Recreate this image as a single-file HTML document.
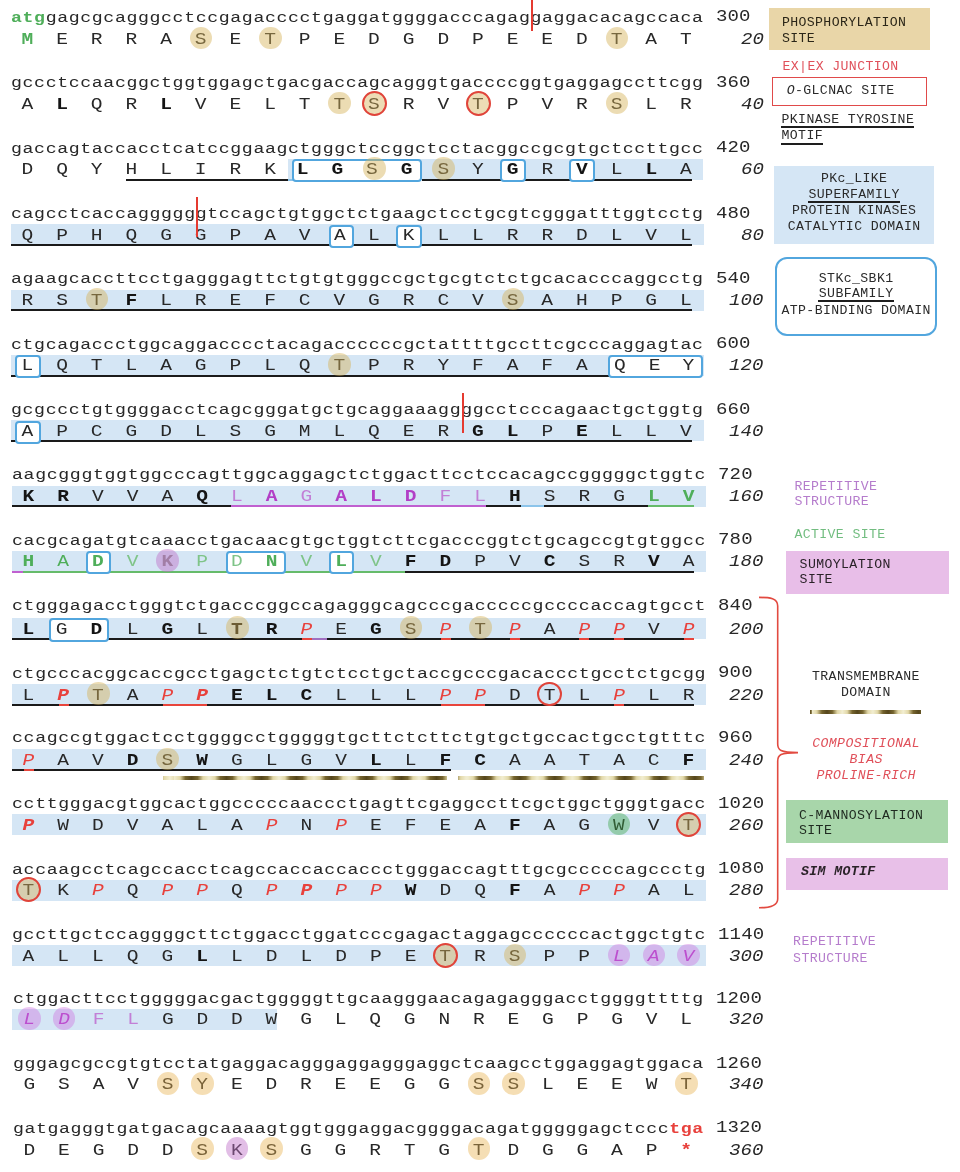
<!DOCTYPE html><html><head><meta charset="utf-8"><style>
html,body{margin:0;padding:0;background:#fff;width:960px;height:1172px;overflow:hidden;position:relative}
.t{position:absolute;white-space:pre;font-family:"Liberation Mono",monospace;color:#282828;line-height:1}
.dna{font-size:15.20px;letter-spacing:2.430px}
.aa{font-size:17.00px;letter-spacing:1.350px}
.num{font-size:17.00px;letter-spacing:1.350px}
.leg{font-size:13.20px;letter-spacing:0.380px;line-height:15.6px}
.b{font-weight:bold;color:#141414}.i{font-style:italic}
.d{position:absolute}
.tm{background:repeating-linear-gradient(90deg,#f2eed2 0px,#e2d8a8 6px,#75642e 11.5px,#55461c 17.5px,#75642e 23.5px,#e2d8a8 29px,#f2eed2 35px)}
.tm2{background:repeating-linear-gradient(90deg,#f2eed2 0px,#e2d8a8 5px,#75642e 10px,#55461c 15.25px,#75642e 20.5px,#e2d8a8 25.5px,#f2eed2 30.5px)}

.cg{color:#4fae5a}
.cgl{color:#7fc488}
.cp{color:#b23fc6}
.cpl{color:#c27fd6}
.cr{color:#e8413c}
.cgrey{color:#8a8a8a}
</style></head><body><div id="w" style="position:absolute;left:0;top:0;width:960px;height:1172px;background:#fff;filter:blur(0.45px)">
<div class="t dna" style="left:10.80px;top:10.86px;letter-spacing:0.505px;transform:scaleX(1.200);transform-origin:0 0"><span class="b cg">atg</span>gagcgcagggcctccgagacccctgaggatggggacccagaggaggacacagccaca</div>
<div class="t num" style="left:715.94px;top:8.48px;letter-spacing:0.113px;transform:scaleX(1.120);transform-origin:0 0">300</div>
<div class="t aa" style="left:10.41px;top:30.68px;letter-spacing:-0.157px;transform:scaleX(1.150);transform-origin:0 0"> <span class="b cg">M</span>  E  R  R  A  S  E  T  P  E  D  G  D  P  E  E  D  T  A  T </div>
<div class="t num i" style="left:740.71px;top:30.68px;letter-spacing:0.113px;transform:scaleX(1.120);transform-origin:0 0">20</div>
<div class="d" style="left:189.78px;top:26.50px;width:22.60px;height:22.60px;border-radius:50%;background:rgba(214,178,90,0.46)"></div>
<div class="d" style="left:259.07px;top:26.50px;width:22.60px;height:22.60px;border-radius:50%;background:rgba(214,178,90,0.46)"></div>
<div class="d" style="left:605.58px;top:26.50px;width:22.60px;height:22.60px;border-radius:50%;background:rgba(214,178,90,0.46)"></div>
<div class="t dna" style="left:10.80px;top:76.21px;letter-spacing:0.505px;transform:scaleX(1.200);transform-origin:0 0">gccctccaacggctggtggagctgacgaccagcagggtgaccccggtgaggagccttcgg</div>
<div class="t num" style="left:715.94px;top:73.83px;letter-spacing:0.113px;transform:scaleX(1.120);transform-origin:0 0">360</div>
<div class="t aa" style="left:10.41px;top:96.03px;letter-spacing:-0.157px;transform:scaleX(1.150);transform-origin:0 0"> A  <span class="b">L</span>  Q  R  <span class="b">L</span>  V  E  L  T  T  S  R  V  T  P  V  R  S  L  R </div>
<div class="t num i" style="left:740.71px;top:96.03px;letter-spacing:0.113px;transform:scaleX(1.120);transform-origin:0 0">40</div>
<div class="d" style="left:328.38px;top:91.85px;width:22.60px;height:22.60px;border-radius:50%;background:rgba(214,178,90,0.46)"></div>
<div class="d" style="left:605.58px;top:91.85px;width:22.60px;height:22.60px;border-radius:50%;background:rgba(214,178,90,0.46)"></div>
<div class="d" style="left:361.93px;top:91.05px;width:24.80px;height:24.80px;border-radius:50%;background:rgba(214,178,90,0.45);box-sizing:border-box;border:2px solid #e0443a"></div>
<div class="d" style="left:465.88px;top:91.05px;width:24.80px;height:24.80px;border-radius:50%;background:rgba(214,178,90,0.45);box-sizing:border-box;border:2px solid #e0443a"></div>
<div class="d" style="left:287.70px;top:158.80px;width:415.80px;height:21px;background:#d5e6f5"></div>
<div class="d" style="left:126.00px;top:178.70px;width:161.70px;height:2px;background:#1a1a1a"></div>
<div class="d" style="left:287.70px;top:178.70px;width:11.55px;height:2px;background:#8cc4ea"></div>
<div class="d" style="left:421.78px;top:178.70px;width:270.18px;height:2px;background:#1a1a1a"></div>
<div class="d" style="left:292.23px;top:159.20px;width:129.55px;height:23.20px;box-sizing:border-box;border:2px solid #52a6de;border-radius:4px;background:#fff"></div>
<div class="d" style="left:500.12px;top:159.20px;width:25.60px;height:23.20px;box-sizing:border-box;border:2px solid #52a6de;border-radius:4px;background:#fff"></div>
<div class="d" style="left:569.43px;top:159.20px;width:25.60px;height:23.20px;box-sizing:border-box;border:2px solid #52a6de;border-radius:4px;background:#fff"></div>
<div class="t dna" style="left:10.80px;top:141.56px;letter-spacing:0.505px;transform:scaleX(1.200);transform-origin:0 0">gaccagtaccacctcatccggaagctgggctccggctcctacggccgcgtgctccttgcc</div>
<div class="t num" style="left:715.94px;top:139.18px;letter-spacing:0.113px;transform:scaleX(1.120);transform-origin:0 0">420</div>
<div class="t aa" style="left:10.41px;top:161.38px;letter-spacing:-0.157px;transform:scaleX(1.150);transform-origin:0 0"> D  Q  Y  H  L  I  R  K  <span class="b" style="position:relative;left:-1.74px">L</span>  <span class="b" style="position:relative;left:-1.74px">G</span>  <span class="" style="position:relative;left:-1.74px">S</span>  <span class="b" style="position:relative;left:-1.74px">G</span>  S  Y  <span class="b">G</span>  R  <span class="b">V</span>  L  <span class="b">L</span>  A </div>
<div class="t num i" style="left:740.71px;top:161.38px;letter-spacing:0.113px;transform:scaleX(1.120);transform-origin:0 0">60</div>
<div class="d" style="left:363.03px;top:157.20px;width:22.60px;height:22.60px;border-radius:50%;background:rgba(214,178,90,0.46)"></div>
<div class="d" style="left:432.32px;top:157.20px;width:22.60px;height:22.60px;border-radius:50%;background:rgba(214,178,90,0.46)"></div>
<div class="d" style="left:10.50px;top:224.15px;width:693.00px;height:21px;background:#d5e6f5"></div>
<div class="d" style="left:11.00px;top:244.05px;width:680.95px;height:2px;background:#1a1a1a"></div>
<div class="d" style="left:328.77px;top:224.55px;width:25.60px;height:23.20px;box-sizing:border-box;border:2px solid #52a6de;border-radius:4px;background:#fff"></div>
<div class="d" style="left:396.18px;top:224.55px;width:25.60px;height:23.20px;box-sizing:border-box;border:2px solid #52a6de;border-radius:4px;background:#fff"></div>
<div class="t dna" style="left:10.80px;top:206.91px;letter-spacing:0.505px;transform:scaleX(1.200);transform-origin:0 0">cagcctcaccaggggggtccagctgtggctctgaagctcctgcgtcgggatttggtcctg</div>
<div class="t num" style="left:715.94px;top:204.53px;letter-spacing:0.113px;transform:scaleX(1.120);transform-origin:0 0">480</div>
<div class="t aa" style="left:10.41px;top:226.73px;letter-spacing:-0.157px;transform:scaleX(1.150);transform-origin:0 0"> Q  P  H  Q  G  G  P  A  V  <span class="" style="position:relative;left:0.52px">A</span>  L  K  L  L  R  R  D  L  V  L </div>
<div class="t num i" style="left:740.71px;top:226.73px;letter-spacing:0.113px;transform:scaleX(1.120);transform-origin:0 0">80</div>
<div class="d" style="left:10.50px;top:289.50px;width:693.00px;height:21px;background:#d5e6f5"></div>
<div class="d" style="left:11.00px;top:309.40px;width:680.95px;height:2px;background:#1a1a1a"></div>
<div class="t dna" style="left:10.80px;top:272.26px;letter-spacing:0.505px;transform:scaleX(1.200);transform-origin:0 0">agaagcaccttcctgagggagttctgtgtgggccgctgcgtctctgcacacccaggcctg</div>
<div class="t num" style="left:715.94px;top:269.88px;letter-spacing:0.113px;transform:scaleX(1.120);transform-origin:0 0">540</div>
<div class="t aa" style="left:10.41px;top:292.08px;letter-spacing:-0.157px;transform:scaleX(1.150);transform-origin:0 0"> R  S  T  <span class="b">F</span>  L  R  E  F  C  V  G  R  C  V  S  A  H  P  G  L </div>
<div class="t num i" style="left:729.16px;top:292.08px;letter-spacing:0.113px;transform:scaleX(1.120);transform-origin:0 0">100</div>
<div class="d" style="left:85.83px;top:287.90px;width:22.60px;height:22.60px;border-radius:50%;background:rgba(214,178,90,0.46)"></div>
<div class="d" style="left:501.62px;top:287.90px;width:22.60px;height:22.60px;border-radius:50%;background:rgba(214,178,90,0.46)"></div>
<div class="d" style="left:10.50px;top:354.85px;width:693.00px;height:21px;background:#d5e6f5"></div>
<div class="d" style="left:11.00px;top:374.75px;width:680.95px;height:2px;background:#1a1a1a"></div>
<div class="d" style="left:15.03px;top:355.25px;width:25.60px;height:23.20px;box-sizing:border-box;border:2px solid #52a6de;border-radius:4px;background:#fff"></div>
<div class="d" style="left:608.08px;top:355.25px;width:94.90px;height:23.20px;box-sizing:border-box;border:2px solid #52a6de;border-radius:4px;background:#fff"></div>
<div class="t dna" style="left:10.80px;top:337.61px;letter-spacing:0.505px;transform:scaleX(1.200);transform-origin:0 0">ctgcagaccctggcaggacccctacagaccccccgctattttgccttcgcccaggagtac</div>
<div class="t num" style="left:715.94px;top:335.23px;letter-spacing:0.113px;transform:scaleX(1.120);transform-origin:0 0">600</div>
<div class="t aa" style="left:10.41px;top:357.43px;letter-spacing:-0.157px;transform:scaleX(1.150);transform-origin:0 0"> L  Q  T  L  A  G  P  L  Q  T  P  R  Y  F  A  F  A  <span class="" style="position:relative;left:2.87px">Q</span>  <span class="" style="position:relative;left:2.87px">E</span>  <span class="" style="position:relative;left:2.09px">Y</span> </div>
<div class="t num i" style="left:729.16px;top:357.43px;letter-spacing:0.113px;transform:scaleX(1.120);transform-origin:0 0">120</div>
<div class="d" style="left:328.38px;top:353.25px;width:22.60px;height:22.60px;border-radius:50%;background:rgba(214,178,90,0.46)"></div>
<div class="d" style="left:10.50px;top:420.20px;width:693.00px;height:21px;background:#d5e6f5"></div>
<div class="d" style="left:11.00px;top:440.10px;width:680.95px;height:2px;background:#1a1a1a"></div>
<div class="d" style="left:15.03px;top:420.60px;width:25.60px;height:23.20px;box-sizing:border-box;border:2px solid #52a6de;border-radius:4px;background:#fff"></div>
<div class="t dna" style="left:10.80px;top:402.96px;letter-spacing:0.505px;transform:scaleX(1.200);transform-origin:0 0">gcgccctgtggggacctcagcgggatgctgcaggaaaggggcctcccagaactgctggtg</div>
<div class="t num" style="left:715.94px;top:400.58px;letter-spacing:0.113px;transform:scaleX(1.120);transform-origin:0 0">660</div>
<div class="t aa" style="left:10.41px;top:422.78px;letter-spacing:-0.157px;transform:scaleX(1.150);transform-origin:0 0"> A  P  C  G  D  L  S  G  M  L  Q  E  R  <span class="b">G</span>  <span class="b">L</span>  P  <span class="b">E</span>  L  L  V </div>
<div class="t num i" style="left:729.16px;top:422.78px;letter-spacing:0.113px;transform:scaleX(1.120);transform-origin:0 0">140</div>
<div class="d" style="left:11.50px;top:485.55px;width:694.50px;height:21px;background:#d5e6f5"></div>
<div class="d" style="left:12.00px;top:505.45px;width:219.42px;height:2px;background:#1a1a1a"></div>
<div class="d" style="left:231.42px;top:505.45px;width:254.65px;height:2px;background:#c060d0"></div>
<div class="d" style="left:486.07px;top:505.45px;width:34.72px;height:2px;background:#1a1a1a"></div>
<div class="d" style="left:520.80px;top:505.45px;width:23.15px;height:2px;background:#8cc4ea"></div>
<div class="d" style="left:543.95px;top:505.45px;width:104.18px;height:2px;background:#1a1a1a"></div>
<div class="d" style="left:648.12px;top:505.45px;width:46.30px;height:2px;background:#66bb6a"></div>
<div class="t dna" style="left:11.82px;top:468.31px;letter-spacing:0.526px;transform:scaleX(1.200);transform-origin:0 0">aagcgggtggtggcccagttggcaggagctctggacttcctccacagccgggggctggtc</div>
<div class="t num" style="left:718.46px;top:465.93px;letter-spacing:0.135px;transform:scaleX(1.120);transform-origin:0 0">720</div>
<div class="t aa" style="left:11.42px;top:488.13px;letter-spacing:-0.135px;transform:scaleX(1.150);transform-origin:0 0"> <span class="b">K</span>  <span class="b">R</span>  V  V  A  <span class="b">Q</span>  <span class="cpl">L</span>  <span class="b cp">A</span>  <span class="cpl">G</span>  <span class="b cp">A</span>  <span class="b cp">L</span>  <span class="b cp">D</span>  <span class="cpl">F</span>  <span class="cpl">L</span>  <span class="b">H</span>  S  R  G  <span class="b cg">L</span>  <span class="b cg">V</span> </div>
<div class="t num i" style="left:729.16px;top:488.13px;letter-spacing:0.113px;transform:scaleX(1.120);transform-origin:0 0">160</div>
<div class="d" style="left:11.50px;top:550.90px;width:694.50px;height:21px;background:#d5e6f5"></div>
<div class="d" style="left:12.00px;top:570.80px;width:11.07px;height:2px;background:#c060d0"></div>
<div class="d" style="left:23.07px;top:570.80px;width:381.97px;height:2px;background:#66bb6a"></div>
<div class="d" style="left:405.05px;top:570.80px;width:289.38px;height:2px;background:#1a1a1a"></div>
<div class="d" style="left:85.51px;top:551.30px;width:25.60px;height:23.20px;box-sizing:border-box;border:2px solid #52a6de;border-radius:4px;background:#fff"></div>
<div class="d" style="left:225.71px;top:551.30px;width:60.33px;height:23.20px;box-sizing:border-box;border:2px solid #52a6de;border-radius:4px;background:#fff"></div>
<div class="d" style="left:328.59px;top:551.30px;width:25.60px;height:23.20px;box-sizing:border-box;border:2px solid #52a6de;border-radius:4px;background:#fff"></div>
<div class="t dna" style="left:11.82px;top:533.66px;letter-spacing:0.526px;transform:scaleX(1.200);transform-origin:0 0">cacgcagatgtcaaacctgacaacgtgctggtcttcgacccggtctgcagccgtgtggcc</div>
<div class="t num" style="left:718.46px;top:531.28px;letter-spacing:0.135px;transform:scaleX(1.120);transform-origin:0 0">780</div>
<div class="t aa" style="left:11.42px;top:553.48px;letter-spacing:-0.135px;transform:scaleX(1.150);transform-origin:0 0"> <span class="b cg">H</span>  <span class="cg">A</span>  <span class="b cg">D</span>  <span class="cgl">V</span>  <span class="b cgrey">K</span>  <span class="cgl">P</span>  <span class="cgl">D</span>  <span class="b cg">N</span>  <span class="cgl">V</span>  <span class="b cg">L</span>  <span class="cgl">V</span>  <span class="b">F</span>  <span class="b">D</span>  P  V  <span class="b">C</span>  S  R  <span class="b">V</span>  A </div>
<div class="t num i" style="left:729.16px;top:553.48px;letter-spacing:0.113px;transform:scaleX(1.120);transform-origin:0 0">180</div>
<div class="d" style="left:156.46px;top:549.30px;width:22.60px;height:22.60px;border-radius:50%;background:rgba(190,110,200,0.45)"></div>
<div class="d" style="left:11.50px;top:617.95px;width:694.50px;height:21px;background:#d5e6f5"></div>
<div class="d" style="left:12.00px;top:637.85px;width:682.42px;height:2px;background:#1a1a1a"></div>
<div class="d" style="left:301.66px;top:637.85px;width:10.00px;height:2px;background:#e8453c"></div>
<div class="d" style="left:440.56px;top:637.85px;width:10.00px;height:2px;background:#e8453c"></div>
<div class="d" style="left:510.01px;top:637.85px;width:10.00px;height:2px;background:#e8453c"></div>
<div class="d" style="left:579.46px;top:637.85px;width:10.00px;height:2px;background:#e8453c"></div>
<div class="d" style="left:614.19px;top:637.85px;width:10.00px;height:2px;background:#e8453c"></div>
<div class="d" style="left:683.64px;top:637.85px;width:10.00px;height:2px;background:#e8453c"></div>
<div class="d" style="left:311.66px;top:637.85px;width:15.00px;height:2px;background:#a070c0"></div>
<div class="d" style="left:48.79px;top:618.35px;width:60.33px;height:23.20px;box-sizing:border-box;border:2px solid #52a6de;border-radius:4px;background:#fff"></div>
<div class="t dna" style="left:11.82px;top:599.01px;letter-spacing:0.526px;transform:scaleX(1.200);transform-origin:0 0">ctgggagacctgggtctgacccggccagagggcagcccgacccccgccccaccagtgcct</div>
<div class="t num" style="left:718.46px;top:596.63px;letter-spacing:0.135px;transform:scaleX(1.120);transform-origin:0 0">840</div>
<div class="t aa" style="left:11.42px;top:620.53px;letter-spacing:-0.135px;transform:scaleX(1.150);transform-origin:0 0"> <span class="b">L</span>  <span class="" style="position:relative;left:-1.30px">G</span>  <span class="b" style="position:relative;left:-1.30px">D</span>  L  <span class="b">G</span>  L  <span class="b">T</span>  <span class="b">R</span>  <span class="i cr">P</span>  E  <span class="b">G</span>  S  <span class="i cr">P</span>  T  <span class="i cr">P</span>  A  <span class="i cr">P</span>  <span class="i cr">P</span>  V  <span class="i cr">P</span> </div>
<div class="t num i" style="left:729.16px;top:620.53px;letter-spacing:0.113px;transform:scaleX(1.120);transform-origin:0 0">200</div>
<div class="d" style="left:225.91px;top:616.35px;width:22.60px;height:22.60px;border-radius:50%;background:rgba(214,178,90,0.46)"></div>
<div class="d" style="left:399.54px;top:616.35px;width:22.60px;height:22.60px;border-radius:50%;background:rgba(214,178,90,0.46)"></div>
<div class="d" style="left:468.99px;top:616.35px;width:22.60px;height:22.60px;border-radius:50%;background:rgba(214,178,90,0.46)"></div>
<div class="d" style="left:11.50px;top:684.00px;width:694.50px;height:21px;background:#d5e6f5"></div>
<div class="d" style="left:12.00px;top:703.90px;width:682.42px;height:2px;background:#1a1a1a"></div>
<div class="d" style="left:58.59px;top:703.90px;width:10.00px;height:2px;background:#e8453c"></div>
<div class="d" style="left:614.19px;top:703.90px;width:10.00px;height:2px;background:#e8453c"></div>
<div class="d" style="left:162.76px;top:703.90px;width:44.72px;height:2px;background:#e8453c"></div>
<div class="d" style="left:440.56px;top:703.90px;width:44.72px;height:2px;background:#e8453c"></div>
<div class="t dna" style="left:11.82px;top:666.56px;letter-spacing:0.526px;transform:scaleX(1.200);transform-origin:0 0">ctgcccacggcaccgcctgagctctgtctcctgctaccgcccgacaccctgcctctgcgg</div>
<div class="t num" style="left:718.46px;top:664.18px;letter-spacing:0.135px;transform:scaleX(1.120);transform-origin:0 0">900</div>
<div class="t aa" style="left:11.42px;top:686.58px;letter-spacing:-0.135px;transform:scaleX(1.150);transform-origin:0 0"> L  <span class="b i cr">P</span>  T  A  <span class="i cr">P</span>  <span class="b i cr">P</span>  <span class="b">E</span>  <span class="b">L</span>  <span class="b">C</span>  L  L  L  <span class="i cr">P</span>  <span class="i cr">P</span>  D  T  L  <span class="i cr">P</span>  L  R </div>
<div class="t num i" style="left:729.16px;top:686.58px;letter-spacing:0.113px;transform:scaleX(1.120);transform-origin:0 0">220</div>
<div class="d" style="left:87.01px;top:682.40px;width:22.60px;height:22.60px;border-radius:50%;background:rgba(214,178,90,0.46)"></div>
<div class="d" style="left:537.34px;top:681.60px;width:24.80px;height:24.80px;border-radius:50%;box-sizing:border-box;border:2px solid #e0443a"></div>
<div class="d" style="left:11.50px;top:749.25px;width:694.50px;height:21px;background:#d5e6f5"></div>
<div class="d" style="left:12.00px;top:769.15px;width:439.35px;height:2px;background:#1a1a1a"></div>
<div class="d" style="left:23.86px;top:769.15px;width:10.00px;height:2px;background:#e8453c"></div>
<div class="t dna" style="left:11.82px;top:731.41px;letter-spacing:0.526px;transform:scaleX(1.200);transform-origin:0 0">ccagccgtggactcctggggcctgggggtgcttctcttctgtgctgccactgcctgtttc</div>
<div class="t num" style="left:718.46px;top:729.03px;letter-spacing:0.135px;transform:scaleX(1.120);transform-origin:0 0">960</div>
<div class="t aa" style="left:11.42px;top:751.83px;letter-spacing:-0.135px;transform:scaleX(1.150);transform-origin:0 0"> <span class="i cr">P</span>  A  V  <span class="b">D</span>  S  <span class="b">W</span>  G  L  G  V  <span class="b">L</span>  L  <span class="b">F</span>  <span class="b">C</span>  A  A  T  A  C  <span class="b">F</span> </div>
<div class="t num i" style="left:729.16px;top:751.83px;letter-spacing:0.113px;transform:scaleX(1.120);transform-origin:0 0">240</div>
<div class="d" style="left:156.46px;top:747.65px;width:22.60px;height:22.60px;border-radius:50%;background:rgba(214,178,90,0.46)"></div>
<div class="d" style="left:11.50px;top:814.20px;width:694.50px;height:21px;background:#d5e6f5"></div>
<div class="t dna" style="left:11.82px;top:797.06px;letter-spacing:0.526px;transform:scaleX(1.200);transform-origin:0 0">ccttgggacgtggcactggcccccaaccctgagttcgaggccttcgctggctgggtgacc</div>
<div class="t num" style="left:718.46px;top:794.68px;letter-spacing:0.135px;transform:scaleX(1.120);transform-origin:0 0">1020</div>
<div class="t aa" style="left:11.42px;top:816.78px;letter-spacing:-0.135px;transform:scaleX(1.150);transform-origin:0 0"> <span class="b i cr">P</span>  W  D  V  A  L  A  <span class="i cr">P</span>  N  <span class="i cr">P</span>  E  F  E  A  <span class="b">F</span>  A  G  W  V  T </div>
<div class="t num i" style="left:729.16px;top:816.78px;letter-spacing:0.113px;transform:scaleX(1.120);transform-origin:0 0">260</div>
<div class="d" style="left:607.89px;top:812.60px;width:22.60px;height:22.60px;border-radius:50%;background:rgba(60,168,72,0.42)"></div>
<div class="d" style="left:676.24px;top:811.80px;width:24.80px;height:24.80px;border-radius:50%;background:rgba(214,178,90,0.45);box-sizing:border-box;border:2px solid #e0443a"></div>
<div class="d" style="left:11.50px;top:879.65px;width:694.50px;height:21px;background:#d5e6f5"></div>
<div class="t dna" style="left:11.82px;top:862.81px;letter-spacing:0.526px;transform:scaleX(1.200);transform-origin:0 0">accaagcctcagccacctcagccaccaccaccctgggaccagtttgcgcccccagccctg</div>
<div class="t num" style="left:718.46px;top:860.43px;letter-spacing:0.135px;transform:scaleX(1.120);transform-origin:0 0">1080</div>
<div class="t aa" style="left:11.42px;top:882.23px;letter-spacing:-0.135px;transform:scaleX(1.150);transform-origin:0 0"> T  K  <span class="i cr">P</span>  Q  <span class="i cr">P</span>  <span class="i cr">P</span>  Q  <span class="i cr">P</span>  <span class="b i cr">P</span>  <span class="i cr">P</span>  <span class="i cr">P</span>  <span class="b">W</span>  D  Q  <span class="b">F</span>  A  <span class="i cr">P</span>  <span class="i cr">P</span>  A  L </div>
<div class="t num i" style="left:729.16px;top:882.23px;letter-spacing:0.113px;transform:scaleX(1.120);transform-origin:0 0">280</div>
<div class="d" style="left:16.46px;top:877.25px;width:24.80px;height:24.80px;border-radius:50%;background:rgba(214,178,90,0.45);box-sizing:border-box;border:2px solid #e0443a"></div>
<div class="d" style="left:11.50px;top:945.20px;width:694.50px;height:21px;background:#d5e6f5"></div>
<div class="t dna" style="left:11.82px;top:927.96px;letter-spacing:0.526px;transform:scaleX(1.200);transform-origin:0 0">gccttgctccaggggcttctggacctggatcccgagactaggagccccccactggctgtc</div>
<div class="t num" style="left:718.46px;top:925.58px;letter-spacing:0.135px;transform:scaleX(1.120);transform-origin:0 0">1140</div>
<div class="t aa" style="left:11.42px;top:947.78px;letter-spacing:-0.135px;transform:scaleX(1.150);transform-origin:0 0"> A  L  L  Q  G  <span class="b">L</span>  L  D  L  D  P  E  T  R  S  P  P  <span class="i cp">L</span>  <span class="i cp">A</span>  <span class="i cp">V</span> </div>
<div class="t num i" style="left:729.16px;top:947.78px;letter-spacing:0.113px;transform:scaleX(1.120);transform-origin:0 0">300</div>
<div class="d" style="left:433.16px;top:942.80px;width:24.80px;height:24.80px;border-radius:50%;background:rgba(214,178,90,0.45);box-sizing:border-box;border:2px solid #e0443a"></div>
<div class="d" style="left:503.71px;top:943.60px;width:22.60px;height:22.60px;border-radius:50%;background:rgba(214,178,90,0.46)"></div>
<div class="d" style="left:607.89px;top:943.60px;width:22.60px;height:22.60px;border-radius:50%;background:rgba(205,105,220,0.38)"></div>
<div class="d" style="left:642.61px;top:943.60px;width:22.60px;height:22.60px;border-radius:50%;background:rgba(205,105,220,0.38)"></div>
<div class="d" style="left:677.34px;top:943.60px;width:22.60px;height:22.60px;border-radius:50%;background:rgba(205,105,220,0.38)"></div>
<div class="d" style="left:12.30px;top:1008.55px;width:264.96px;height:21px;background:#d5e6f5"></div>
<div class="t dna" style="left:12.59px;top:992.11px;letter-spacing:0.480px;transform:scaleX(1.200);transform-origin:0 0">ctggacttcctgggggacgactgggggttgcaagggaacagagagggacctggggttttg</div>
<div class="t num" style="left:715.91px;top:989.73px;letter-spacing:0.086px;transform:scaleX(1.120);transform-origin:0 0">1200</div>
<div class="t aa" style="left:12.20px;top:1011.13px;letter-spacing:-0.183px;transform:scaleX(1.150);transform-origin:0 0"> <span class="i cp">L</span>  <span class="i cp">D</span>  <span class="cpl">F</span>  <span class="cpl">L</span>  G  D  D  W  G  L  Q  G  N  R  E  G  P  G  V  L </div>
<div class="t num i" style="left:729.16px;top:1011.13px;letter-spacing:0.113px;transform:scaleX(1.120);transform-origin:0 0">320</div>
<div class="d" style="left:18.28px;top:1006.95px;width:22.60px;height:22.60px;border-radius:50%;background:rgba(205,105,220,0.38)"></div>
<div class="d" style="left:52.84px;top:1006.95px;width:22.60px;height:22.60px;border-radius:50%;background:rgba(205,105,220,0.38)"></div>
<div class="t dna" style="left:12.59px;top:1056.96px;letter-spacing:0.480px;transform:scaleX(1.200);transform-origin:0 0">gggagcgccgtgtcctatgaggacagggaggagggaggctcaagcctggaggagtggaca</div>
<div class="t num" style="left:715.91px;top:1054.58px;letter-spacing:0.086px;transform:scaleX(1.120);transform-origin:0 0">1260</div>
<div class="t aa" style="left:12.20px;top:1076.28px;letter-spacing:-0.183px;transform:scaleX(1.150);transform-origin:0 0"> G  S  A  V  S  Y  E  D  R  E  E  G  G  S  S  L  E  E  W  T </div>
<div class="t num i" style="left:729.16px;top:1076.28px;letter-spacing:0.113px;transform:scaleX(1.120);transform-origin:0 0">340</div>
<div class="d" style="left:156.52px;top:1072.10px;width:22.60px;height:22.60px;border-radius:50%;background:rgba(232,178,80,0.43)"></div>
<div class="d" style="left:191.08px;top:1072.10px;width:22.60px;height:22.60px;border-radius:50%;background:rgba(232,178,80,0.43)"></div>
<div class="d" style="left:467.56px;top:1072.10px;width:22.60px;height:22.60px;border-radius:50%;background:rgba(232,178,80,0.43)"></div>
<div class="d" style="left:502.12px;top:1072.10px;width:22.60px;height:22.60px;border-radius:50%;background:rgba(232,178,80,0.43)"></div>
<div class="d" style="left:674.92px;top:1072.10px;width:22.60px;height:22.60px;border-radius:50%;background:rgba(232,178,80,0.43)"></div>
<div class="t dna" style="left:12.59px;top:1121.81px;letter-spacing:0.480px;transform:scaleX(1.200);transform-origin:0 0">gatgagggtgatgacagcaaaagtggtgggaggacggggacagatgggggagctccc<span class="b cr">tga</span></div>
<div class="t num" style="left:715.91px;top:1119.43px;letter-spacing:0.086px;transform:scaleX(1.120);transform-origin:0 0">1320</div>
<div class="t aa" style="left:12.20px;top:1141.63px;letter-spacing:-0.183px;transform:scaleX(1.150);transform-origin:0 0"> D  E  G  D  D  S  K  S  G  G  R  T  G  T  D  G  G  A  P  <span class="b cr">*</span> </div>
<div class="t num i" style="left:729.16px;top:1141.63px;letter-spacing:0.113px;transform:scaleX(1.120);transform-origin:0 0">360</div>
<div class="d" style="left:191.08px;top:1137.45px;width:22.60px;height:22.60px;border-radius:50%;background:rgba(232,178,80,0.43)"></div>
<div class="d" style="left:260.20px;top:1137.45px;width:22.60px;height:22.60px;border-radius:50%;background:rgba(232,178,80,0.43)"></div>
<div class="d" style="left:467.56px;top:1137.45px;width:22.60px;height:22.60px;border-radius:50%;background:rgba(232,178,80,0.43)"></div>
<div class="d" style="left:225.64px;top:1137.45px;width:22.60px;height:22.60px;border-radius:50%;background:rgba(190,110,200,0.45)"></div>
<div class="d" style="left:531.05px;top:0.00px;width:2px;height:31.25px;background:#e53a30"></div>
<div class="d" style="left:196.10px;top:197.25px;width:2px;height:39.60px;background:#e53a30"></div>
<div class="d" style="left:461.75px;top:393.10px;width:2px;height:40.00px;background:#e53a30"></div>
<div class="d tm" style="left:162.5px;top:775.8px;width:284.5px;height:4.4px;background-position:11px 0"></div>
<div class="d tm" style="left:458px;top:775.8px;width:245.8px;height:4.4px;background-position:9.4px 0"></div>
<div class="d" style="left:768.75px;top:7.90px;width:161.05px;height:42.10px;box-sizing:border-box;background:#e9d6a8"></div>
<div class="t leg" style="left:781.90px;top:16.39px;line-height:1;color:#2b2618;">PHOSPHORYLATION</div>
<div class="t leg" style="left:781.90px;top:31.59px;line-height:1;color:#2b2618;">SITE</div>
<div class="t leg" style="left:782.50px;top:60.09px;line-height:1;color:#e0505a;">EX|EX JUNCTION</div>
<div class="d" style="left:772.00px;top:76.70px;width:154.70px;height:29.55px;box-sizing:border-box;border:1.6px solid #e04a4a;background:#fff"></div>
<div class="t leg" style="left:786.70px;top:83.64px;line-height:1;color:#2a2a2a;"><span class="i">O</span>-GLCNAC SITE</div>
<div class="t leg" style="left:781.50px;top:112.79px;line-height:1;color:#2a2a2a;">PKINASE TYROSINE</div>
<div class="d" style="left:781.00px;top:126.10px;width:133.42px;height:1.8px;background:#1e1e1e"></div>
<div class="t leg" style="left:781.50px;top:129.49px;line-height:1;color:#2a2a2a;">MOTIF</div>
<div class="d" style="left:781.00px;top:142.80px;width:42.12px;height:1.8px;background:#1e1e1e"></div>
<div class="d" style="left:773.50px;top:165.60px;width:160.50px;height:78.15px;box-sizing:border-box;background:#d5e6f5"></div>
<div class="t leg" style="left:820.99px;top:172.19px;line-height:1;color:#2a2a2a;">PKc_LIKE</div>
<div class="t leg" style="left:808.54px;top:187.79px;line-height:1;color:#2a2a2a;">SUPERFAMILY</div>
<div class="d" style="left:808.04px;top:200.90px;width:91.92px;height:1.8px;background:#1e1e1e"></div>
<div class="t leg" style="left:791.94px;top:204.49px;line-height:1;color:#2a2a2a;">PROTEIN KINASES</div>
<div class="t leg" style="left:787.79px;top:220.09px;line-height:1;color:#2a2a2a;">CATALYTIC DOMAIN</div>
<div class="d" style="left:775.00px;top:256.70px;width:161.70px;height:79.10px;box-sizing:border-box;border:2px solid #52a6de;border-radius:12px;background:#fff"></div>
<div class="t leg" style="left:818.84px;top:271.59px;line-height:1;color:#2a2a2a;">STKc_SBK1</div>
<div class="t leg" style="left:818.84px;top:287.19px;line-height:1;color:#2a2a2a;">SUBFAMILY</div>
<div class="d" style="left:818.34px;top:300.30px;width:75.32px;height:1.8px;background:#1e1e1e"></div>
<div class="t leg" style="left:781.49px;top:303.89px;line-height:1;color:#2a2a2a;">ATP-BINDING DOMAIN</div>
<div class="t leg" style="left:794.40px;top:480.29px;line-height:1;color:#b57ccc;">REPETITIVE</div>
<div class="t leg" style="left:794.40px;top:495.29px;line-height:1;color:#b57ccc;">STRUCTURE</div>
<div class="t leg" style="left:794.40px;top:528.19px;line-height:1;color:#72bd80;">ACTIVE SITE</div>
<div class="d" style="left:786.00px;top:551.25px;width:162.50px;height:42.75px;box-sizing:border-box;background:#e8bee8"></div>
<div class="t leg" style="left:799.60px;top:557.89px;line-height:1;color:#2a2228;">SUMOYLATION</div>
<div class="t leg" style="left:799.60px;top:573.39px;line-height:1;color:#2a2228;">SITE</div>
<div class="t leg" style="left:812.04px;top:670.49px;line-height:1;color:#2a2a2a;">TRANSMEMBRANE</div>
<div class="t leg" style="left:841.09px;top:685.69px;line-height:1;color:#2a2a2a;">DOMAIN</div>
<div class="d tm2" style="left:809.5px;top:709.7px;width:111px;height:4.5px;background-position:1.75px 0"></div>
<div class="t leg" style="left:812.24px;top:737.19px;line-height:1;color:#e0505a;font-style:italic">COMPOSITIONAL</div>
<div class="t leg" style="left:849.59px;top:752.89px;line-height:1;color:#e0505a;font-style:italic">BIAS</div>
<div class="t leg" style="left:816.39px;top:769.49px;line-height:1;color:#e0505a;font-style:italic">PROLINE-RICH</div>
<svg class="d" style="left:0;top:0" width="960" height="1172"><path d="M759 597.4 C770 597.4 777.7 598 777.7 606 L777.7 744 C777.7 750 780 752.6 798 752.6 C780 752.6 777.7 755 777.7 761 L777.7 899 C777.7 906 770 907.8 759 907.8" fill="none" stroke="#e24a40" stroke-width="1.6"/></svg>
<div class="d" style="left:786.40px;top:800.40px;width:161.20px;height:42.30px;box-sizing:border-box;background:#a8d6aa"></div>
<div class="t leg" style="left:799.00px;top:809.29px;line-height:1;color:#1f2a20;">C-MANNOSYLATION</div>
<div class="t leg" style="left:799.00px;top:824.39px;line-height:1;color:#1f2a20;">SITE</div>
<div class="d" style="left:786.40px;top:858.10px;width:161.20px;height:32.10px;box-sizing:border-box;background:#e8c0e8"></div>
<div class="t leg" style="left:801.00px;top:865.49px;line-height:1;color:#2a2228;font-style:italic;font-weight:bold">SIM MOTIF</div>
<div class="t leg" style="left:793.10px;top:935.49px;line-height:1;color:#b57ccc;">REPETITIVE</div>
<div class="t leg" style="left:793.10px;top:952.09px;line-height:1;color:#b57ccc;">STRUCTURE</div>
</div></body></html>
